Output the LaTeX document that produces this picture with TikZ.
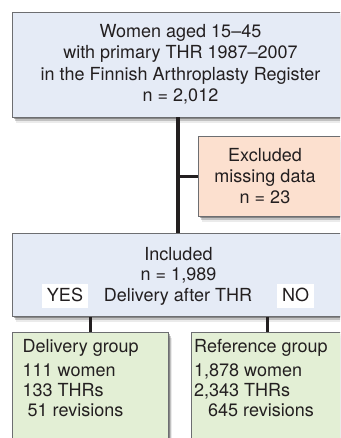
\documentclass[tikz,border=0pt]{standalone}
\usepackage{fontspec}
\setmainfont{TeX Gyre Heros}
\usepackage{tikz}
\usetikzlibrary{positioning,shadows}
\usepackage{xcolor}

\definecolor{boxblue}{HTML}{E5EBF6}
\definecolor{boxpeach}{HTML}{FCE0CF}
\definecolor{boxgreen}{HTML}{E3EFD5}
\definecolor{rimgray}{HTML}{6D6E71}
\definecolor{linkblack}{HTML}{231F20}

\tikzset{
  softshadow/.style={
    drop shadow={shadow xshift=1.5pt, shadow yshift=-2pt, opacity=.3, fill=black},
    drop shadow={shadow xshift=2.5pt, shadow yshift=-4pt, opacity=.18, fill=black},
    drop shadow={shadow xshift=3.5pt, shadow yshift=-6pt, opacity=.08, fill=black}},
  box/.style={draw=rimgray, line width=0.9pt, inner sep=0pt, softshadow},
  tag/.style={fill=white, inner xsep=5pt, inner ysep=4pt, text height=13pt, text depth=3pt},
  conn/.style={draw=linkblack, line width=3.4pt},
  grouptext/.style={anchor=north west, inner sep=0pt, align=left, font=\fontsize{18}{20}\selectfont}
}

\begin{document}
\begin{tikzpicture}[x=1pt, y=-1pt, font=\fontsize{18}{21.5}\selectfont, text=linkblack]
\useasboundingbox (0,0) rectangle (340,438);
\clip (0,0) rectangle (340,438);

% 母集団
\node[box, fill=boxblue, minimum width=337pt, minimum height=105pt, align=center] (cohort) at (180.5,64.5)
  {Women aged 15--45\\with primary THR 1987--2007\\in the Finnish Arthroplasty Register\\n = 2,012};

% 除外
\node[box, fill=boxpeach, minimum width=154pt, minimum height=80pt, anchor=north west] (excl) at (198,136) {};
\node[align=center, font=\fontsize{18}{21}\selectfont] (excltext) at (265,176) {Excluded\\missing data\\n = 23};

% 対象
\node[box, fill=boxblue, minimum width=335pt, minimum height=83pt, anchor=north west] (incl) at (12,233) {};
\node[align=center, font=\fontsize{18}{20}\selectfont] (incltext) at (178.5,265) {Included\\n = 1,989};
\node[tag, anchor=base] (yes) at (65,301) {YES};
\node[anchor=base] (split) at (178,301) {Delivery after THR};
\node[tag, anchor=base] (no) at (295.5,301) {NO};

% 二群
\node[box, fill=boxgreen, minimum width=156pt, minimum height=120pt, anchor=north west] (delivery) at (12,332) {};
\node[grouptext] (deliverytext) at (22.5,339)
  {Delivery group\\[4pt]111 women\\133 THRs\\\hspace*{5pt}51 revisions};
\node[box, fill=boxgreen, minimum width=152pt, minimum height=120pt, anchor=north west] (reference) at (191,332) {};
\node[grouptext] (referencetext) at (194,339)
  {Reference group\\[4pt]1,878 women\\2,343 THRs\\\hspace*{14pt}645 revisions};

% 接続線
\draw[conn] (cohort.south -| split) -- (incl.north -| split);
\draw[conn] (excl.west) -- (excl.west -| split);
\draw[conn] (incl.south -| delivery.north) -- (delivery.north);
\draw[conn] (incl.south -| reference.north) -- (reference.north);
\end{tikzpicture}
\end{document}
